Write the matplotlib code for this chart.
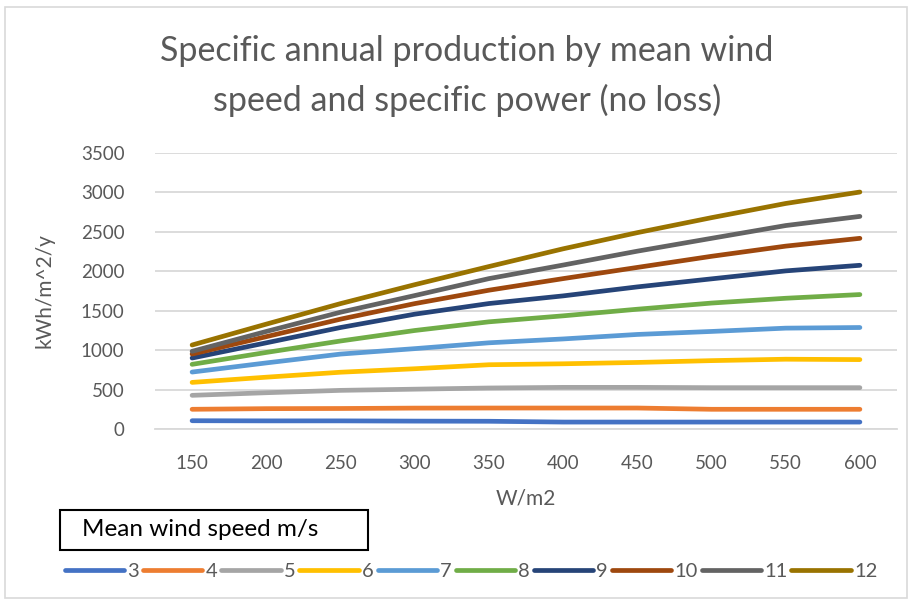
import matplotlib
matplotlib.use("Agg")
import matplotlib.pyplot as plt
from matplotlib.patches import Rectangle

plt.rcParams['font.family'] = ['Lato', 'DejaVu Sans']

# specific power categories (W/m2)
specific_power = ['150', '200', '250', '300', '350', '400', '450', '500', '550', '600']

# specific annual production, kWh/m^2/y, one series per mean wind speed
wind_speeds = ['3', '4', '5', '6', '7', '8', '9', '10', '11', '12']
prod_3 = [105, 103, 103, 100, 98, 88, 88, 88, 88, 88]
prod_4 = [250, 258, 260, 265, 266, 266, 266, 250, 250, 250]
prod_5 = [427, 460, 490, 505, 520, 528, 528, 524, 524, 524]
prod_6 = [591, 657, 720, 764, 815, 827, 844, 867, 885, 880]
prod_7 = [722, 838, 950, 1019, 1093, 1142, 1199, 1237, 1279, 1287]
prod_8 = [820, 971, 1116, 1249, 1359, 1435, 1519, 1597, 1658, 1705]
prod_9 = [900, 1093, 1287, 1456, 1591, 1688, 1802, 1904, 2005, 2076]
prod_10 = [950, 1171, 1393, 1590, 1760, 1907, 2049, 2190, 2319, 2418]
prod_11 = [985, 1237, 1481, 1692, 1907, 2079, 2255, 2418, 2580, 2696]
prod_12 = [1065, 1330, 1590, 1830, 2060, 2285, 2490, 2680, 2860, 3005]

series = [prod_3, prod_4, prod_5, prod_6, prod_7, prod_8, prod_9, prod_10, prod_11, prod_12]
colors = ['#4472C4', '#ED7D31', '#A5A5A5', '#FFC000', '#5B9BD5',
          '#70AD47', '#264478', '#9E480E', '#636363', '#997300']

W, H = 914, 605
fig = plt.figure(figsize=(W / 100, H / 100), dpi=100)
fig.patch.set_facecolor('white')

# light chart border
fig.patches.append(Rectangle((5 / W, 1 - 598 / H), 902 / W, 591 / H,
                             transform=fig.transFigure, fill=False,
                             ec='#D9D9D9', lw=1.2))

ax = fig.add_axes([155 / W, 1 - 429 / H, 742 / W, 276 / H])
x = list(range(len(specific_power)))
for vals, c, lab in zip(series, colors, wind_speeds):
    ax.plot(x, vals, color=c, lw=3.4, solid_capstyle='round',
            solid_joinstyle='round', label=lab, zorder=3)

ax.set_xlim(-0.5, len(x) - 0.5)
ax.set_ylim(0, 3500)
ax.set_yticks(range(0, 3501, 500))
ax.set_xticks(x)
ax.set_xticklabels(specific_power)
ax.grid(axis='y', color='#D9D9D9', lw=1.3, zorder=0)
for s in ['top', 'right', 'left']:
    ax.spines[s].set_visible(False)
ax.spines['bottom'].set_color('#D9D9D9')
ax.spines['bottom'].set_linewidth(1.3)
ax.tick_params(length=0, labelsize=13.5, labelcolor='#595959')
ax.tick_params(axis='y', pad=22)
ax.tick_params(axis='x', pad=19)

ax.set_xlabel('W/m2', fontsize=15, color='#595959')
ax.set_ylabel('kWh/m^2/y', fontsize=15, color='#595959')
ax.xaxis.set_label_coords(0.5, -0.214)
ax.yaxis.set_label_coords(-0.135, 0.5)

fig.text(467 / W, 1 - 76 / H,
         'Specific annual production by mean wind\nspeed and specific power (no loss)',
         ha='center', va='center', fontsize=24.5, color='#595959',
         linespacing=1.6)

# legend title box
fig.patches.append(Rectangle((60 / W, 1 - 550 / H), 308 / W, 40 / H,
                             transform=fig.transFigure, fill=True,
                             fc='white', ec='black', lw=1.5))
fig.text(82 / W, 1 - 530 / H, 'Mean wind speed m/s', ha='left', va='center',
         fontsize=17.5, color='black')

leg = fig.legend(loc='center', bbox_to_anchor=(471 / W, 1 - 571 / H), ncol=10,
                 frameon=False, fontsize=14.5, handlelength=2.95,
                 handletextpad=0.15, columnspacing=0.2)
for t in leg.get_texts():
    t.set_color('#595959')

fig.savefig('out.png', dpi=100)
